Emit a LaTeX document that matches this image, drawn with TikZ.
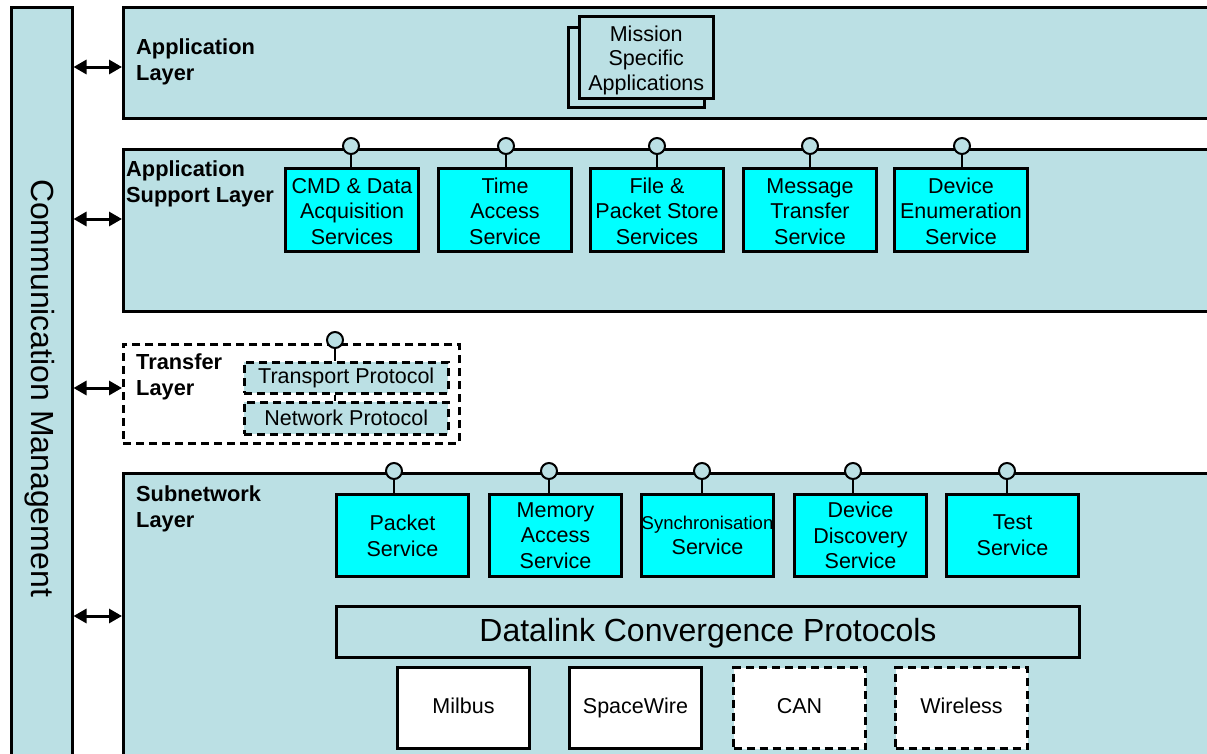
\documentclass[tikz,border=0pt]{standalone}
\usepackage{fontspec}
\setmainfont{Liberation Sans}
\usetikzlibrary{arrows.meta}
\definecolor{lb}{RGB}{187,224,228}
\definecolor{cy}{RGB}{0,255,255}
\begin{document}
\begin{tikzpicture}[x=1pt,y=-1pt,
  layerbox/.style={draw=black, line width=2.5pt, fill=lb, inner sep=0pt, anchor=north west},
  svc/.style={draw=black, line width=3pt, fill=cy, minimum width=133pt, minimum height=83pt, inner sep=0pt, align=center, font=\fontsize{21.5}{25.7}\selectfont, anchor=north west},
  phy/.style={draw=black, line width=3pt, fill=white, minimum width=132pt, minimum height=81pt, inner sep=0pt, text height=15pt, text depth=5pt, font=\fontsize{21.5}{26}\selectfont, anchor=north west},
  dsh/.style={dash pattern=on 8pt off 5pt},
  lol/.style={circle, draw=black, line width=2pt, fill=lb, minimum size=16pt, inner sep=0pt},
  stem/.style={line width=2.5pt},
  lbl/.style={font=\bfseries\fontsize{21.8}{26}\selectfont, align=left, anchor=west, inner sep=0pt},
  biarrow/.style={line width=3pt, {Triangle[length=13pt,width=14pt]}-{Triangle[length=13pt,width=14pt]}},
]
\useasboundingbox (0,0) rectangle (1207,753);
\clip (0,0) rectangle (1207,753);

% Communication management column
\node[layerbox, minimum width=61pt, minimum height=770pt] (cm) at (10,6) {};
\node[rotate=-90, font=\fontsize{32}{38}\selectfont, inner sep=0pt] (cmt) at (40,388) {Communication Management};

% Layers
\node[layerbox, minimum width=1100pt, minimum height=111pt] (al) at (122,6) {};
\node[layerbox, minimum width=1100pt, minimum height=162pt] (asl) at (122,148) {};
\node[layerbox, dsh, fill=none, minimum width=336pt, minimum height=99pt] (tl) at (122,343) {};
\node[layerbox, minimum width=1100pt, minimum height=300pt] (sl) at (122,472) {};

% Layer labels
\node[lbl] (all) at (136,62) {Application\\Layer};
\node[lbl] (asll) at (126,184) {Application\\Support Layer};
\node[lbl] (tll) at (136,377) {Transfer\\Layer};
\node[lbl] (sll) at (136,509) {Subnetwork\\Layer};

% Arrows to communication management
\coordinate (pa) at (122,67);
\coordinate (pb) at (122,219);
\coordinate (pc) at (122,388);
\coordinate (pd) at (122,616);
\draw[biarrow] (cm.east |- pa) -- (pa);
\draw[biarrow] (cm.east |- pb) -- (pb);
\draw[biarrow] (cm.east |- pc) -- (pc);
\draw[biarrow] (cm.east |- pd) -- (pd);

% Mission specific applications
\node[draw=black, line width=2.5pt, fill=lb, minimum width=136pt, minimum height=80pt, inner sep=0pt, anchor=north west] (msb) at (567,26) {};
\node[draw=black, line width=2.5pt, fill=lb, minimum width=134pt, minimum height=82pt, inner sep=0pt, anchor=north west, align=center, font=\fontsize{21.5}{24.5}\selectfont] (ms) at (578,15) {\\[-3pt]Mission\\Specific\\Applications};

% Application support layer services
\node[svc] (s1) at (284,167) {\\[-8pt]CMD \& Data\\Acquisition\\Services};
\node[svc] (s2) at (437,167) {\\[-8pt]Time\\Access\\Service};
\node[svc] (s3) at (589,167) {\\[-8pt]File \&\\Packet Store\\Services};
\node[svc] (s4) at (742,167) {\\[-8pt]Message\\Transfer\\Service};
\node[svc] (s5) at (893,167) {\\[-8pt]Device\\Enumeration\\Service};
\foreach \n/\x in {s1/351,s2/506,s3/657,s4/810,s5/962}{
  \node[lol] (l\n) at (\x,146) {};
  \draw[stem] (l\n.south) -- (l\n.south |- \n.north);
}

% Transfer layer
\node[draw=black, line width=2.5pt, dsh, fill=lb, minimum width=204pt, minimum height=31pt, inner sep=0pt, anchor=north west, font=\fontsize{21.5}{26}\selectfont] (tp) at (243,361) {Transport Protocol};
\node[draw=black, line width=2.5pt, dsh, fill=lb, minimum width=204pt, minimum height=32pt, inner sep=0pt, anchor=north west, font=\fontsize{21.5}{26}\selectfont] (np) at (243,401) {Network Protocol};
\node[lol] (ltp) at (335,340) {};
\draw[stem] (ltp.south) -- (ltp.south |- tp.north);
\draw[stem] (ltp.south |- tp.south) -- (ltp.south |- np.north);

% Subnetwork services
\node[svc, minimum width=132pt, minimum height=82pt] (n1) at (335,493) {Packet\\Service};
\node[svc, minimum width=132pt, minimum height=82pt] (n2) at (488,493) {Memory\\Access\\Service};
\node[svc, minimum width=132pt, minimum height=82pt] (n3) at (640,493) {{\fontsize{18.5}{22}\selectfont Synchronisation}\\Service};
\node[svc, minimum width=132pt, minimum height=82pt] (n4) at (793,493) {Device\\Discovery\\Service};
\node[svc, minimum width=132pt, minimum height=82pt] (n5) at (945,493) {Test\\Service};
\foreach \n/\x in {n1/394,n2/549,n3/702,n4/853,n5/1007}{
  \node[lol] (l\n) at (\x,471) {};
  \draw[stem] (l\n.south) -- (l\n.south |- \n.north);
}

% Datalink convergence
\node[draw=black, line width=3pt, fill=lb, minimum width=743pt, minimum height=51pt, inner sep=0pt, anchor=north west, text height=24pt, text depth=5pt, font=\fontsize{32}{38}\selectfont] (dl) at (335,605) {Datalink Convergence Protocols};

% Physical links
\node[phy] (p1) at (396,666) {Milbus};
\node[phy] (p2) at (568,666) {SpaceWire};
\node[phy, dsh] (p3) at (732,666) {CAN};
\node[phy, dsh] (p4) at (894,666) {Wireless};
\end{tikzpicture}
\end{document}
